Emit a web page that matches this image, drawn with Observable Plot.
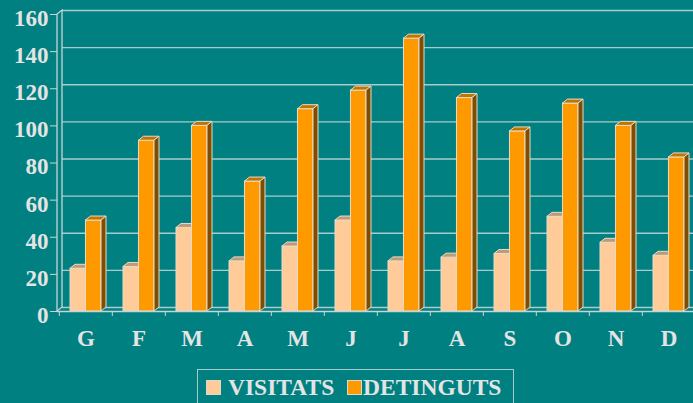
<!DOCTYPE html>
<html>
<head>
<meta charset="utf-8">
<script src="https://cdn.jsdelivr.net/npm/d3@7"></script>
<script src="https://cdn.jsdelivr.net/npm/@observablehq/plot@0.6"></script>
<style>
  html, body { margin: 0; padding: 0; background: #008080; overflow: hidden; width: 693px; height: 403px; }
  #chart { position: absolute; left: 0; top: 0; width: 702px; height: 360px; }
  #chart svg { max-width: none !important; }
  .lg { position: absolute; font-family: "Liberation Serif", "Times New Roman", serif; font-weight: bold; font-size: 23.5px; line-height: 1; color: #e4e4e4; white-space: nowrap; }
  .sw { position: absolute; width: 13px; height: 13px; border: 1px solid #e0d8cc; }
  #box { position: absolute; left: 197px; top: 369px; width: 315px; height: 40px; border: 1px solid #a8cccc; }
</style>
</head>
<body>
<div id="chart"></div>
<div id="box"></div>
<div class="sw" id="sw1" style="left:206px; top:380px;"></div>
<div class="lg" id="lg1" style="left:228px; top:376px;"></div>
<div class="sw" id="sw2" style="left:347px; top:380px;"></div>
<div class="lg" id="lg2" style="left:363px; top:376px;"></div>
<script>
// ---- data ----
const monthKeys   = ["Gen","Feb","Mar","Abr","Mai","Jun","Jul","Ago","Set","Oct","Nov","Des"];
const monthLabels = ["G","F","M","A","M","J","J","A","S","O","N","D"];
const visitats    = [23, 24, 45, 27, 35, 49, 27, 29, 31, 51, 37, 30];
const detinguts   = [49, 92, 100, 70, 109, 119, 147, 115, 97, 112, 100, 83];
const seriesNames = ["VISITATS", "DETINGUTS"];
const yTicks      = [0, 20, 40, 60, 80, 100, 120, 140, 160];

// ---- style / layout ----
const colors = {
  VISITATS:  {front: "#FFCC99", top: "#C09A74", side: "#806650"},
  DETINGUTS: {front: "#FF9900", top: "#C27400", side: "#7F4C00"}
};
const outline = "#e6dccc";
const gridColor = "#a8cccc";
const axisColor = "#c8d4d4";
const W = 702, H = 360, ML = 57, MR = 5, MT = 14, MB = 49;
const DX = 5, DY = 4;           // 3-D depth offset
const pInner = 0.42, pOuter = 0.21;
const step = (W - ML - MR) / (monthKeys.length - pInner + 2 * pOuter);
const bw = step * (1 - pInner);

const visData = monthKeys.map((m, i) => ({m, v: visitats[i]}));
const detData = monthKeys.map((m, i) => ({m, v: detinguts[i]}));
const labelOf = new Map(monthKeys.map((m, i) => [m, monthLabels[i]]));

const plot = Plot.plot({
  width: W, height: H,
  marginLeft: ML, marginRight: MR, marginTop: MT, marginBottom: MB,
  style: {background: "transparent", color: "#e4e4e4", fontFamily: "'Liberation Serif', 'Times New Roman', serif", fontSize: "23px", fontWeight: "bold", maxWidth: "none", width: W + "px", height: H + "px"},
  x: {domain: monthKeys, paddingInner: pInner, paddingOuter: pOuter, align: 0.5, label: null},
  y: {domain: [0, 160], label: null},
  marks: [
    Plot.ruleY(yTicks, {y: d => d, dx: DX, dy: -DY, stroke: gridColor, strokeWidth: 1.3}),
    Plot.barY(visData, {x: "m", y: "v", fill: colors.VISITATS.front, stroke: outline, strokeWidth: 1, insetRight: bw / 2}),
    Plot.barY(detData, {x: "m", y: "v", fill: colors.DETINGUTS.front, stroke: outline, strokeWidth: 1, insetLeft: bw / 2}),
    Plot.ruleY([0], {stroke: axisColor, strokeWidth: 1.3}),
    Plot.axisY({ticks: yTicks, tickSize: 7, tickFormat: () => "", stroke: axisColor, label: null}),
    Plot.axisY({ticks: yTicks, tickSize: 0, tickPadding: 9, dy: 4, label: null}),
    Plot.axisX({tickSize: 0, tickPadding: 18, tickFormat: k => labelOf.get(k), label: null}),
    Plot.axisX({tickSize: 5, tickPadding: 0, tickFormat: () => "", dx: -step / 2, stroke: axisColor, label: null})
  ]
});
document.getElementById("chart").appendChild(plot);

// ---- 3-D decoration derived from Plot's scales and bar rects ----
const svg = d3.select(plot);
const Y = plot.scale("y"), X = plot.scale("x");
const x0 = X.range[0];
const y0 = Y.apply(0), yTop = Y.apply(160);
const walls = svg.insert("g", "g[aria-label=bar]").attr("stroke", axisColor).attr("stroke-width", 1.3).attr("fill", "none");
walls.append("polyline").attr("points", `${x0},${y0} ${x0},${yTop} ${x0 + DX},${yTop - DY} ${x0 + DX},${y0 - DY}`);
walls.append("line").attr("x1", x0).attr("y1", y0).attr("x2", x0 + DX).attr("y2", y0 - DY);

svg.selectAll("g[aria-label=bar]").each(function(_, gi) {
  const c = colors[seriesNames[gi]];
  const g = d3.select(this);
  const rects = g.selectAll("rect").nodes();
  rects.forEach(r => {
    const x = +r.getAttribute("x"), y = +r.getAttribute("y");
    const w = +r.getAttribute("width"), h = +r.getAttribute("height");
    g.append("polygon")
      .attr("points", `${x},${y} ${x + DX},${y - DY} ${x + w + DX},${y - DY} ${x + w},${y}`)
      .attr("fill", c.top).attr("stroke", outline).attr("stroke-width", 1).attr("stroke-linejoin", "round");
    g.append("polygon")
      .attr("points", `${x + w},${y} ${x + w + DX},${y - DY} ${x + w + DX},${y + h - DY} ${x + w},${y + h}`)
      .attr("fill", c.side).attr("stroke", outline).attr("stroke-width", 1).attr("stroke-linejoin", "round");
  });
});

// ---- legend ----
document.getElementById("sw1").style.background = colors.VISITATS.front;
document.getElementById("sw2").style.background = colors.DETINGUTS.front;
document.getElementById("lg1").textContent = seriesNames[0];
document.getElementById("lg2").textContent = seriesNames[1];
</script>
</body>
</html>
